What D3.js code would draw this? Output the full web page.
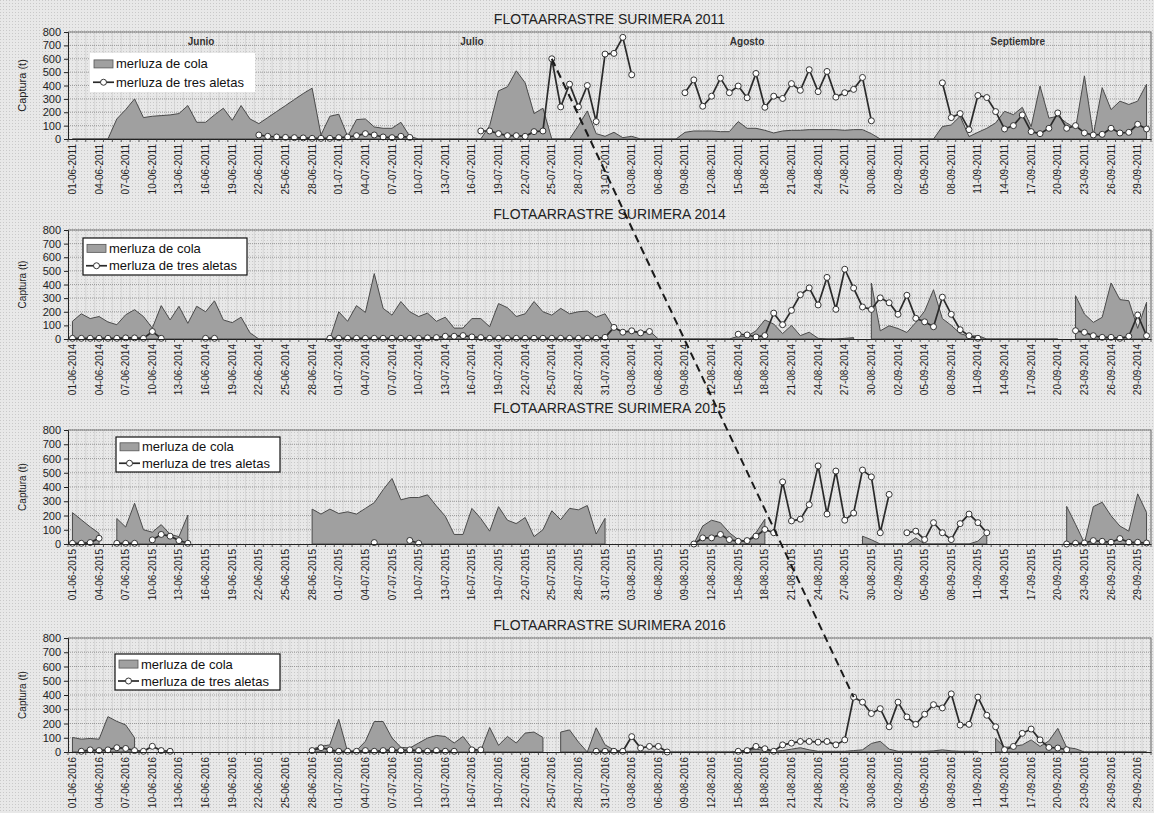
<!DOCTYPE html>
<html lang="es">
<head>
<meta charset="utf-8">
<script src="https://cdn.jsdelivr.net/npm/d3@7"></script>
<style>
  body { margin: 0; background: #e9e9e9; }
  svg text { font-family: "Liberation Sans", Arial, sans-serif; }
</style>
</head>
<body>
<div id="chart"></div>
<script>
// ---- data (t per day, 01-06 .. 30-09; null = no data) ----
var anios = [2011, 2014, 2015, 2016];
var meses = ["Junio", "Julio", "Agosto", "Septiembre"];
var series = ["merluza de cola", "merluza de tres aletas"];
var yTicks = [0, 100, 200, 300, 400, 500, 600, 700, 800];

var cola2011 = [0,0,0,0,0,150,220,300,160,170,
  175,180,190,250,125,125,180,230,140,250,
  150,115,160,205,250,295,340,380,30,170,
  185,20,145,150,90,80,80,125,20,0,
  0,0,0,0,0,0,0,100,360,390,
  510,420,190,230,0,0,0,100,210,40,
  20,50,10,20,0,0,0,0,0,50,
  60,60,60,55,55,130,80,80,65,45,
  60,65,65,70,70,70,70,65,70,70,
  40,0,0,0,0,0,0,0,93,105,
  170,18,50,80,120,207,182,237,93,396,
  156,170,120,80,472,30,384,220,283,258,
  283,410];
var aletas2011 = [null,null,null,null,null,null,null,null,null,null,
  null,null,null,null,null,null,null,null,null,null,
  null,30,20,15,12,10,8,5,5,5,
  10,15,25,40,30,15,10,20,12,null,
  null,null,null,null,null,null,60,60,40,25,
  25,20,55,60,600,240,410,240,400,130,
  635,640,760,480,null,null,null,null,null,346,
  442,245,320,455,346,396,308,490,237,320,
  303,414,364,518,354,505,313,346,371,460,
  136,null,null,null,null,null,null,null,420,160,
  190,70,325,310,205,75,100,180,55,40,
  80,195,80,100,45,30,35,80,45,50,
  110,75];

var cola2014 = [130,185,150,165,125,105,178,215,165,80,
  245,140,240,115,240,200,280,140,120,160,
  45,0,0,0,0,0,0,0,0,0,
  200,130,245,195,480,225,175,275,200,165,
  190,130,160,80,80,150,150,90,260,230,
  165,185,275,200,175,225,185,200,205,160,
  185,80,55,55,50,60,0,0,0,0,
  0,0,0,0,0,20,20,60,140,110,
  40,100,25,50,5,0,0,5,10,null,
  410,60,97,77,48,121,205,362,150,100,
  40,20,25,0,0,0,0,0,0,0,
  0,0,null,318,183,122,159,411,289,281,
  78,269];
var aletas2014 = [5,5,5,5,5,5,8,8,5,55,
  5,null,null,null,null,5,5,null,null,null,
  null,null,null,null,null,null,null,null,null,5,
  5,5,5,5,5,5,5,5,5,5,
  8,10,20,20,25,15,10,5,5,5,
  5,5,5,5,5,5,5,5,5,5,
  12,85,50,60,45,55,null,null,null,null,
  null,null,null,null,null,35,30,15,25,190,
  105,210,325,375,250,452,218,512,374,235,
  217,302,266,181,321,152,126,90,307,181,
  68,24,5,null,null,null,null,null,null,null,
  null,null,null,61,49,24,12,12,5,20,
  176,24];

var cola2015 = [220,170,120,75,null,179,119,286,100,83,
  136,67,52,202,null,null,null,null,null,null,
  null,null,null,null,null,null,null,245,210,245,
  214,226,210,250,290,381,460,310,326,326,
  345,267,195,67,67,250,179,90,262,167,
  143,186,52,100,233,171,250,240,270,70,
  180,null,null,null,null,null,null,null,null,null,
  0,126,167,150,79,31,19,79,174,null,
  null,null,null,null,null,null,null,null,null,55,
  30,0,0,0,0,43,0,0,0,0,
  0,0,20,79,null,null,null,null,null,null,
  null,null,264,138,7,262,293,198,126,90,
  352,221];
var aletas2015 = [5,5,10,40,null,5,5,5,null,29,
  67,55,24,5,null,null,null,null,null,null,
  null,null,null,null,null,null,null,null,null,null,
  null,null,null,null,10,null,null,null,25,5,
  null,null,null,null,null,null,null,null,null,null,
  null,null,null,null,null,null,null,null,null,null,
  null,null,null,null,null,null,null,null,null,null,
  0,43,43,67,31,19,24,55,102,79,
  436,162,174,276,548,210,512,167,217,519,
  471,79,348,null,79,90,31,150,79,31,
  143,210,150,79,null,null,null,null,null,null,
  null,null,0,5,7,24,19,12,38,12,
  12,7];

var cola2016 = [102,90,95,90,248,215,190,100,null,null,
  null,null,null,null,null,null,null,null,null,null,
  null,null,null,null,null,null,null,20,40,50,
  230,0,10,75,214,214,98,33,28,63,
  98,116,109,63,109,28,9,172,47,109,
  63,133,140,102,null,140,155,70,0,170,
  50,15,5,5,5,5,5,0,0,0,
  0,0,0,0,0,5,10,20,10,5,
  10,20,30,15,5,5,5,5,10,15,
  60,75,20,5,5,5,5,8,15,8,
  5,5,5,null,97,32,39,50,85,39,
  78,166,32,23,0,0,0,0,0,0,
  0,0];
var aletas2016 = [null,5,15,10,15,30,25,10,5,40,
  10,5,null,null,null,null,null,null,null,null,
  null,null,null,null,null,null,null,10,30,15,
  5,5,5,10,5,10,15,10,15,10,
  5,10,5,5,null,15,15,null,null,null,
  null,null,null,null,null,null,null,null,null,5,
  5,5,5,108,28,39,39,0,null,null,
  null,null,null,null,null,5,10,39,23,5,
  50,62,74,74,69,74,50,85,385,350,
  270,304,177,350,246,194,265,332,309,408,
  189,194,385,258,177,16,39,131,161,85,
  32,28,16,null,null,null,null,null,null,null,
  null,null];

// arrow from the 2011 peak (25-07) to the 2016 peak (28-08)
var flechaDesde = {panel: 0, dia: 54, valor: 600};
var flechaHasta = {panel: 3, dia: 88, valor: 385};

// ---- layout ----
var width = 1154, height = 813;
var plotLeft = 68, plotRight = 1151;

var paneles = [
  {anio: anios[0], cola: cola2011, aletas: aletas2011, titleY: 24, top: 32, bottom: 139,
   legend: {x: 90, y: 53, w: 165, h: 39, border: false}, months: true},
  {anio: anios[1], cola: cola2014, aletas: aletas2014, titleY: 219, top: 230, bottom: 339,
   legend: {x: 83, y: 238, w: 164, h: 37, border: true}},
  {anio: anios[2], cola: cola2015, aletas: aletas2015, titleY: 413, top: 430, bottom: 544,
   legend: {x: 116, y: 437, w: 164, h: 35, border: true}},
  {anio: anios[3], cola: cola2016, aletas: aletas2016, titleY: 630, top: 638, bottom: 752,
   legend: {x: 115, y: 654, w: 165, h: 36, border: true}}
];

var svg = d3.select("#chart").append("svg")
  .attr("width", width).attr("height", height);

// scanned-paper texture
var pat = svg.append("defs").append("pattern")
  .attr("id", "scan").attr("width", 3).attr("height", 3)
  .attr("patternUnits", "userSpaceOnUse");
pat.append("rect").attr("width", 3).attr("height", 3).attr("fill", "#e8e8e8");
pat.append("rect").attr("width", 1).attr("height", 1).attr("fill", "#c9c9c9");
svg.append("rect").attr("width", width).attr("height", height).attr("fill", "url(#scan)");

var x = d3.scaleBand().domain(d3.range(122)).range([plotLeft, plotRight]);
function xc(i) { return x(i) + x.bandwidth() / 2; }

var fmt = d3.timeFormat("%d-%m-%Y");
var yScales = [];

paneles.forEach(function(p, k) {
  var fechas = d3.timeDay.range(new Date(p.anio, 5, 1), new Date(p.anio, 9, 1));
  var y = d3.scaleLinear().domain([0, 800]).range([p.bottom, p.top]);
  yScales.push(y);
  var g = svg.append("g");

  // vertical day grid
  g.append("g").selectAll("line").data(d3.range(122)).enter().append("line")
    .attr("x1", function(i) { return x(i); }).attr("x2", function(i) { return x(i); })
    .attr("y1", p.top).attr("y2", p.bottom)
    .attr("stroke", "#cbcbcb").attr("stroke-width", 0.6);

  // horizontal grid
  g.append("g").selectAll("line").data(yTicks.slice(1)).enter().append("line")
    .attr("x1", plotLeft).attr("x2", plotRight)
    .attr("y1", function(d) { return y(d); }).attr("y2", function(d) { return y(d); })
    .attr("stroke", "#8a8a8a").attr("stroke-width", 0.8).attr("stroke-dasharray", "1,1");

  // frame
  g.append("path")
    .attr("d", "M" + plotLeft + "," + p.top + "H" + plotRight + "V" + p.bottom)
    .attr("fill", "none").attr("stroke", "#7a7a7a").attr("stroke-width", 1.2);

  // title
  g.append("text").attr("x", (plotLeft + plotRight) / 2).attr("y", p.titleY)
    .attr("text-anchor", "middle").attr("font-size", 14).attr("fill", "#222")
    .text("FLOTAARRASTRE SURIMERA " + p.anio);

  // months
  if (p.months) {
    var inicio = [0, 30, 61, 92], fin = [29, 60, 91, 121];
    g.selectAll("text.mes").data(meses).enter().append("text")
      .attr("class", "mes")
      .attr("x", function(d, i) { return (x(inicio[i]) + x(fin[i]) + x.bandwidth()) / 2; })
      .attr("y", p.top + 13)
      .attr("text-anchor", "middle").attr("font-size", 10).attr("font-weight", "bold")
      .attr("fill", "#333").text(function(d) { return d; });
  }

  var dataCola = p.cola.map(function(v, i) { return {i: i, v: v}; });
  var dataAletas = p.aletas.map(function(v, i) { return {i: i, v: v}; });

  var area = d3.area()
    .defined(function(d) { return d.v != null; })
    .x(function(d) { return xc(d.i); })
    .y0(y(0)).y1(function(d) { return y(d.v); });
  g.append("path").datum(dataCola).attr("d", area)
    .attr("fill", "#a0a0a0").attr("stroke", "#4a4a4a").attr("stroke-width", 1);

  var line = d3.line()
    .defined(function(d) { return d.v != null; })
    .x(function(d) { return xc(d.i); })
    .y(function(d) { return y(d.v); });
  g.append("path").datum(dataAletas).attr("d", line)
    .attr("fill", "none").attr("stroke", "#2a2a2a").attr("stroke-width", 1.7);
  g.append("g").selectAll("circle")
    .data(dataAletas.filter(function(d) { return d.v != null; }))
    .enter().append("circle")
    .attr("cx", function(d) { return xc(d.i); })
    .attr("cy", function(d) { return y(d.v); })
    .attr("r", 3).attr("fill", "#fff").attr("stroke", "#333").attr("stroke-width", 1);

  // y axis
  var ay = g.append("g").attr("transform", "translate(" + plotLeft + ",0)")
    .call(d3.axisLeft(y).tickValues(yTicks).tickSize(4).tickPadding(3));
  ay.selectAll("text").attr("font-size", 11).attr("fill", "#222").attr("font-family", null);
  ay.selectAll("line, path").attr("stroke", "#222");

  g.append("text")
    .attr("transform", "translate(26," + ((p.top + p.bottom) / 2) + ") rotate(-90)")
    .attr("text-anchor", "middle").attr("font-size", k === 0 ? 11 : 10).attr("fill", "#222")
    .text("Captura (t)");

  // x axis
  var ax = g.append("g").attr("transform", "translate(0," + p.bottom + ")")
    .call(d3.axisBottom(x).tickValues(d3.range(0, 122, 3)).tickSize(0)
      .tickFormat(function(i) { return fmt(fechas[i]); }));
  ax.select("path").attr("stroke", "#222");
  ax.selectAll("text")
    .attr("font-size", 10).attr("fill", "#222").attr("font-family", null)
    .attr("transform", "rotate(-90)")
    .attr("x", -5).attr("y", 0).attr("dy", "0.35em")
    .style("text-anchor", "end");
  g.append("g").selectAll("line").data(d3.range(123)).enter().append("line")
    .attr("x1", function(i) { return i < 122 ? x(i) : plotRight; })
    .attr("x2", function(i) { return i < 122 ? x(i) : plotRight; })
    .attr("y1", p.bottom).attr("y2", p.bottom + 3)
    .attr("stroke", "#333").attr("stroke-width", 0.8);

  // legend
  var L = p.legend;
  var lg = g.append("g").attr("transform", "translate(" + L.x + "," + L.y + ")");
  lg.append("rect").attr("width", L.w).attr("height", L.h).attr("fill", "#fff")
    .attr("stroke", L.border ? "#111" : "none").attr("stroke-width", 1.2);
  var r1 = L.h * 0.28, r2 = L.h * 0.75;
  lg.append("rect").attr("x", 4).attr("y", r1 - 4).attr("width", 19).attr("height", 8)
    .attr("fill", "#a0a0a0").attr("stroke", "#555").attr("stroke-width", 0.8);
  lg.append("line").attr("x1", 3).attr("x2", 24).attr("y1", r2).attr("y2", r2)
    .attr("stroke", "#2a2a2a").attr("stroke-width", 1.7);
  lg.append("circle").attr("cx", 13.5).attr("cy", r2).attr("r", 3)
    .attr("fill", "#fff").attr("stroke", "#333");
  lg.selectAll("text.ley").data(series).enter().append("text")
    .attr("class", "ley").attr("x", 26)
    .attr("y", function(d, i) { return (i === 0 ? r1 : r2) + 4.5; })
    .attr("font-size", 13).attr("fill", "#111").text(function(d) { return d; });
});

// dashed arrow line across the panels
svg.append("line")
  .attr("x1", xc(flechaDesde.dia)).attr("y1", yScales[flechaDesde.panel](flechaDesde.valor))
  .attr("x2", xc(flechaHasta.dia)).attr("y2", yScales[flechaHasta.panel](flechaHasta.valor))
  .attr("stroke", "#1a1a1a").attr("stroke-width", 2).attr("stroke-dasharray", "8,5");
</script>
</body>
</html>
